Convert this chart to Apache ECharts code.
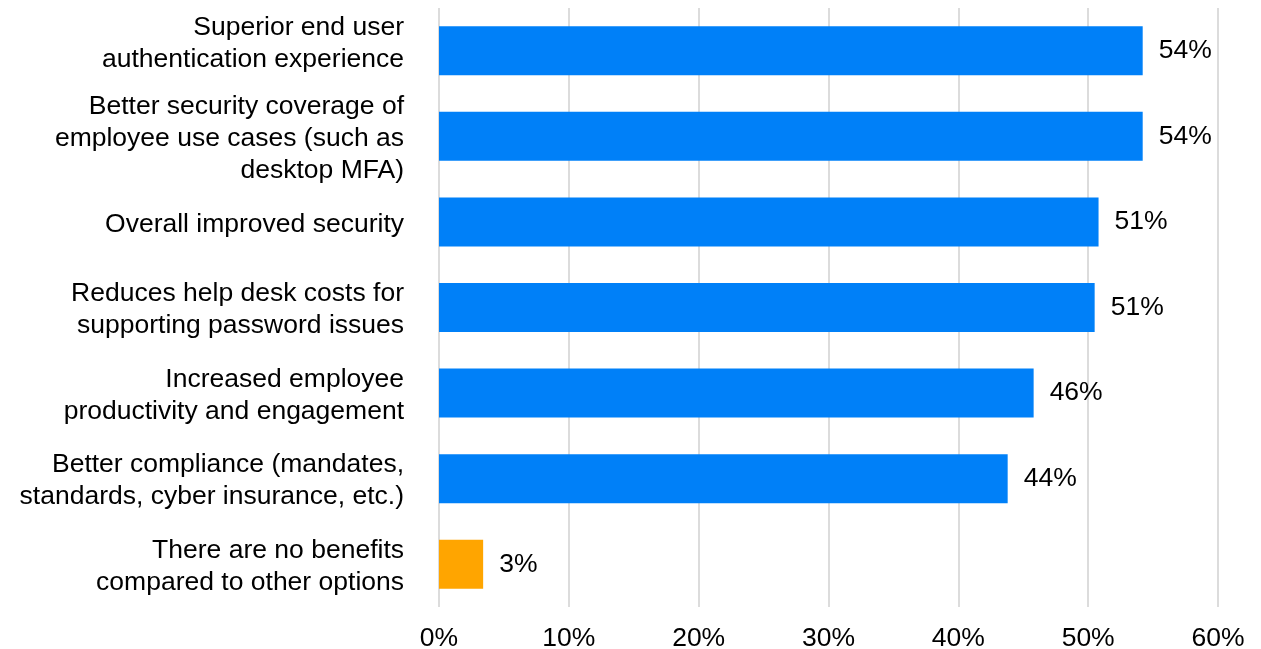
<!DOCTYPE html>
<html>
<head>
<meta charset="utf-8">
<script src="https://cdn.jsdelivr.net/npm/echarts@6/dist/echarts.min.js"></script>
<style>
  html, body { margin: 0; padding: 0; background: #ffffff; }
  #chart { width: 1261px; height: 649px; }
</style>
</head>
<body>
<div id="chart"></div>
<script>
// Benefits named, top to bottom
const categories = [
  'Superior end user\nauthentication experience',
  'Better security coverage of\nemployee use cases (such as\ndesktop MFA)',
  'Overall improved security',
  'Reduces help desk costs for\nsupporting password issues',
  'Increased employee\nproductivity and engagement',
  'Better compliance (mandates,\nstandards, cyber insurance, etc.)',
  'There are no benefits\ncompared to other options'
];

// Share of respondents (%)
const values = [54.2, 54.2, 50.8, 50.5, 45.8, 43.8, 3.4];

// Bars highlighted as the "no benefit" answer
const highlighted = [false, false, false, false, false, false, true];

// Percentage ticks along the bottom
const tickValues = [0, 10, 20, 30, 40, 50, 60];

const BLUE = '#0080f8';
const ORANGE = '#ffa500';
const FONT = '"Liberation Sans", Arial, sans-serif';

const chart = echarts.init(document.getElementById('chart'), null, { renderer: 'canvas' });

chart.setOption({
  animation: false,
  backgroundColor: '#ffffff',
  grid: {
    left: 439, right: 43, top: 8, bottom: 42,
    containLabel: false,
    outerBoundsMode: 'none'
  },
  xAxis: {
    type: 'value',
    min: tickValues[0],
    max: tickValues[tickValues.length - 1],
    interval: 10,
    axisLine: { show: false },
    axisTick: { show: false },
    splitLine: { show: true, lineStyle: { color: '#dcdcdc', width: 2 } },
    axisLabel: {
      margin: 18,
      color: '#000000',
      fontFamily: FONT,
      fontSize: 26.5,
      showMinLabel: true,
      showMaxLabel: true,
      formatter: v => v + '%'
    }
  },
  yAxis: {
    type: 'category',
    inverse: true,
    data: categories,
    axisLine: { show: false },
    axisTick: { show: false },
    axisLabel: {
      margin: 35,
      color: '#000000',
      fontFamily: FONT,
      fontSize: 26.5,
      lineHeight: 32,
      align: 'right',
      interval: 0,
      hideOverlap: false,
      showMinLabel: true,
      showMaxLabel: true,
      // the top label is nudged upward, the rest slightly down
      formatter: (v, i) => i === 0 ? v + '\n{gapBelow| }' : '{gapAbove| }\n' + v,
      rich: {
        gapBelow: { lineHeight: 14, fontSize: 1 },
        gapAbove: { lineHeight: 5, fontSize: 1 }
      }
    }
  },
  series: [{
    type: 'bar',
    barWidth: 49,
    data: values.map((v, i) => ({
      value: v,
      itemStyle: { color: highlighted[i] ? ORANGE : BLUE }
    })),
    label: {
      show: true,
      position: 'right',
      distance: 16,
      color: '#000000',
      fontFamily: FONT,
      fontSize: 26.5,
      formatter: p => Math.round(p.value) + '%'
    }
  }]
});
</script>
</body>
</html>
